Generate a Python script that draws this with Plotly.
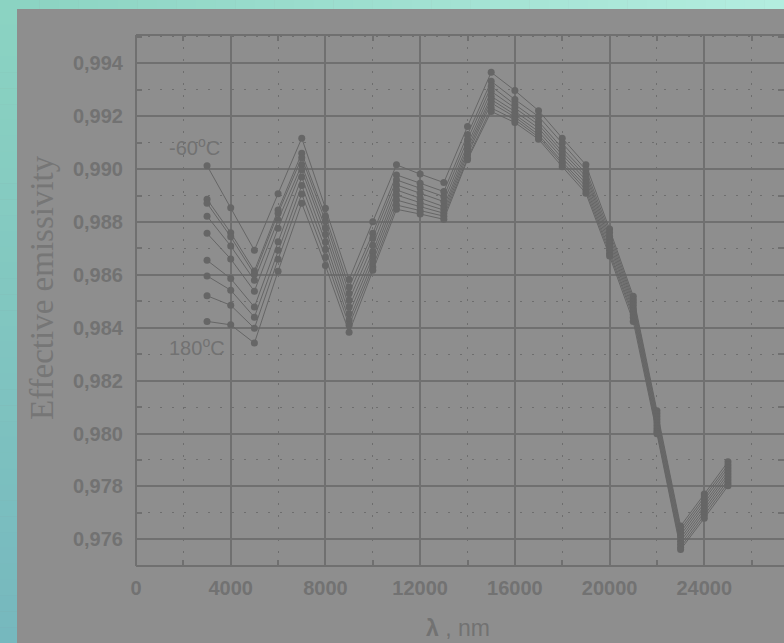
import plotly.graph_objects as go

# ---------------- data ----------------
wavelengths = [3000, 4000, 5000, 6000, 7000, 8000, 9000, 10000, 11000, 12000, 13000, 14000,
               15000, 16000, 17000, 18000, 19000, 20000, 21000, 22000, 23000, 24000, 25000]
temperatures = [-60, -30, 0, 30, 60, 90, 120, 150, 180]

s_m60 = [0.99013, 0.98854, 0.98693, 0.98907, 0.99117, 0.98852, 0.98582, 0.98801, 0.99016, 0.98981, 0.98949, 0.99161,
         0.99366, 0.99297, 0.99221, 0.99117, 0.99016, 0.98773, 0.98519, 0.98086, 0.97650, 0.97771, 0.97893]
s_m30 = [0.98886, 0.98759, 0.98615, 0.98845, 0.99060, 0.98822, 0.98554, 0.98757, 0.98978, 0.98946, 0.98915, 0.99130,
         0.99332, 0.99263, 0.99199, 0.99098, 0.98997, 0.98760, 0.98507, 0.98075, 0.97638, 0.97760, 0.97881]
s_0 = [0.98871, 0.98744, 0.98602, 0.98833, 0.99043, 0.98803, 0.98529, 0.98738, 0.98959, 0.98928, 0.98896, 0.99111,
       0.99313, 0.99244, 0.99180, 0.99079, 0.98984, 0.98746, 0.98496, 0.98063, 0.97627, 0.97749, 0.97870]
s_30 = [0.98822, 0.98709, 0.98580, 0.98807, 0.99016, 0.98777, 0.98504, 0.98712, 0.98940, 0.98909, 0.98877, 0.99092,
        0.99294, 0.99231, 0.99168, 0.99066, 0.98972, 0.98733, 0.98485, 0.98052, 0.97616, 0.97737, 0.97858]
s_60 = [0.98757, 0.98660, 0.98538, 0.98776, 0.98997, 0.98754, 0.98478, 0.98687, 0.98921, 0.98890, 0.98858, 0.99079,
        0.99275, 0.99218, 0.99155, 0.99054, 0.98959, 0.98720, 0.98473, 0.98041, 0.97604, 0.97726, 0.97847]
s_90 = [0.98655, 0.98586, 0.98478, 0.98725, 0.98970, 0.98724, 0.98453, 0.98668, 0.98902, 0.98873, 0.98845, 0.99066,
        0.99263, 0.99206, 0.99142, 0.99041, 0.98946, 0.98707, 0.98462, 0.98029, 0.97593, 0.97714, 0.97836]
s_120 = [0.98596, 0.98542, 0.98440, 0.98693, 0.98938, 0.98697, 0.98428, 0.98649, 0.98883, 0.98858, 0.98833, 0.99054,
         0.99250, 0.99197, 0.99130, 0.99028, 0.98934, 0.98693, 0.98450, 0.98018, 0.97581, 0.97703, 0.97824]
s_150 = [0.98521, 0.98485, 0.98398, 0.98659, 0.98906, 0.98667, 0.98409, 0.98630, 0.98864, 0.98842, 0.98822, 0.99041,
         0.99231, 0.99187, 0.99121, 0.99020, 0.98921, 0.98682, 0.98439, 0.98008, 0.97570, 0.97691, 0.97813]
s_180 = [0.98424, 0.98411, 0.98342, 0.98614, 0.98871, 0.98635, 0.98383, 0.98617, 0.98848, 0.98830, 0.98810, 0.99035,
         0.99218, 0.99176, 0.99113, 0.99009, 0.98909, 0.98671, 0.98424, 0.97999, 0.97561, 0.97680, 0.97802]
series = [s_m60, s_m30, s_0, s_30, s_60, s_90, s_120, s_150, s_180]

x_tick_vals = [0, 4000, 8000, 12000, 16000, 20000, 24000]
x_tick_labels = ["0", "4000", "8000", "12000", "16000", "20000", "24000"]
y_tick_vals = [0.976, 0.978, 0.980, 0.982, 0.984, 0.986, 0.988, 0.990, 0.992, 0.994]
y_tick_labels = ["0,976", "0,978", "0,980", "0,982", "0,984", "0,986", "0,988", "0,990", "0,992", "0,994"]

# ---------------- style ----------------
W, H = 784, 643
L, R, T, B = 136, 0, 35, 77
PW, PH = W - L - R, H - T - B
GRAY_BG = "rgb(142,142,142)"
INK = "rgb(102,102,102)"
TXT = "rgb(114,114,114)"
GRID = "rgb(112,112,112)"

def px2x(px):
    return (px - L) / PW

def py2y(py):
    return (H - B - py) / PH

fig = go.Figure()
for t, vals in zip(temperatures, series):
    fig.add_trace(go.Scatter(
        x=wavelengths, y=vals, mode="lines+markers", name=f"{t} °C",
        line=dict(color=INK, width=1),
        marker=dict(color=INK, size=7),
        showlegend=False,
    ))

# teal gradient border (outside the gray panel)
shapes = []
n = 40
c_tl, c_tr, c_bl = (139, 211, 194), (179, 237, 223), (118, 184, 190)
def mix(a, b, f):
    return "rgb(%d,%d,%d)" % tuple(round(a[i] + (b[i] - a[i]) * f) for i in range(3))
for i in range(n):
    x0 = W * i / n
    x1 = W * (i + 1) / n + 0.5
    shapes.append(dict(type="rect", xref="paper", yref="paper",
                       x0=px2x(x0), x1=px2x(x1), y0=py2y(9), y1=py2y(0),
                       fillcolor=mix(c_tl, c_tr, i / (n - 1)), line=dict(width=0), layer="above"))
for i in range(n):
    y0 = 9 + (H - 9) * i / n
    y1 = 9 + (H - 9) * (i + 1) / n + 0.5
    shapes.append(dict(type="rect", xref="paper", yref="paper",
                       x0=px2x(0), x1=px2x(17), y0=py2y(y1), y1=py2y(y0),
                       fillcolor=mix(c_tl, c_bl, i / (n - 1)), line=dict(width=0), layer="above"))
# frame lines (left, bottom, top)
for (x0, y0, x1, y1) in [(0, 0, 0, 1), (0, 0, 1.01, 0), (0, 1, 1.01, 1)]:
    shapes.append(dict(type="line", xref="paper", yref="paper", x0=x0, y0=y0, x1=x1, y1=y1,
                       line=dict(color=GRID, width=2)))

annotations = [
    dict(x=2460, y=0.99085, xref="x", yref="y", text="-60<sup>o</sup>C", showarrow=False,
         font=dict(family="Liberation Sans, Arial", size=20, color=TXT)),
    dict(x=2560, y=0.98330, xref="x", yref="y", text="180<sup>o</sup>C", showarrow=False,
         font=dict(family="Liberation Sans, Arial", size=20, color=TXT)),
    dict(x=px2x(42), y=py2y(288), xref="paper", yref="paper", text="Effective emissivity",
         textangle=-90, showarrow=False, xanchor="center", yanchor="middle",
         font=dict(family="Liberation Serif, Times New Roman", size=33, color="rgb(118,118,118)")),
    dict(x=px2x(458), y=py2y(628), xref="paper", yref="paper", text="<b>λ</b> , nm",
         showarrow=False, xanchor="center", yanchor="middle",
         font=dict(family="Liberation Sans, Arial", size=23, color=TXT)),
]

fig.update_layout(
    width=W, height=H,
    margin=dict(l=L, r=R, t=T, b=B, pad=0),
    paper_bgcolor=GRAY_BG, plot_bgcolor=GRAY_BG,
    shapes=shapes, annotations=annotations,
    showlegend=False,
)
fig.update_xaxes(
    range=[0, PW / 0.023679], tickmode="array", tickvals=x_tick_vals, ticktext=x_tick_labels,
    showline=False, mirror="ticks", ticks="inside", ticklen=10, tickwidth=2, tickcolor=GRID,
    showgrid=True, gridcolor=GRID, gridwidth=1.5, zeroline=False,
    tickfont=dict(family="Liberation Sans, Arial", size=20, color=TXT, weight="bold"),
    ticklabelstandoff=8,
    minor=dict(tickmode="linear", tick0=2000, dtick=4000, ticks="inside", ticklen=6, tickwidth=2,
               tickcolor=GRID, showgrid=True, gridcolor="rgb(110,110,110)", gridwidth=1,
               griddash="2px,10px"),
)
fig.update_yaxes(
    range=[0.97499, 0.99507], tickmode="array", tickvals=y_tick_vals, ticktext=y_tick_labels,
    showline=False, mirror="ticks", ticks="inside", ticklen=10, tickwidth=2, tickcolor=GRID,
    showgrid=True, gridcolor=GRID, gridwidth=1.5, zeroline=False,
    tickfont=dict(family="Liberation Sans, Arial", size=20, color=TXT, weight="bold"),
    ticklabelstandoff=12,
    minor=dict(tickmode="linear", tick0=0.975, dtick=0.002, ticks="inside", ticklen=6, tickwidth=2,
               tickcolor=GRID, showgrid=True, gridcolor="rgb(110,110,110)", gridwidth=1,
               griddash="2px,10px"),
)

fig.write_html(
    "out.html",
    config={"displayModeBar": False},
    post_script="document.body.style.margin='0';document.body.style.overflow='hidden';"
                "document.documentElement.style.overflow='hidden';",
)
